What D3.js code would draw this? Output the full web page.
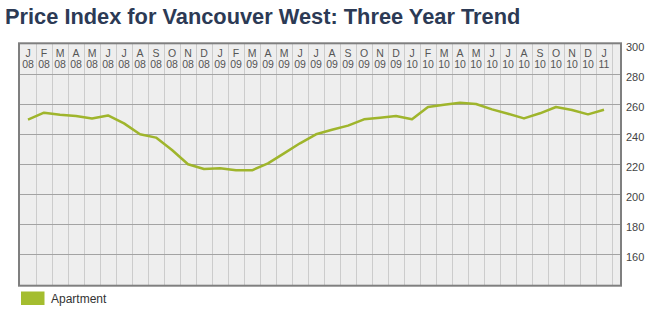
<!DOCTYPE html>
<meta charset="utf-8">
<style>
    body { margin: 0; background: #fff; }
    text { font-family: "Liberation Sans", Arial, sans-serif; }
</style>
<body>
<script src="https://d3js.org/d3.v7.min.js"></script>
<script>
    // month letters and two-digit years for the header band
    var months = ["J","F","M","A","M","J","J","A","S","O","N","D",
                  "J","F","M","A","M","J","J","A","S","O","N","D",
                  "J","F","M","A","M","J","J","A","S","O","N","D","J"];
    var years = ["08","08","08","08","08","08","08","08","08","08","08","08",
                 "09","09","09","09","09","09","09","09","09","09","09","09",
                 "10","10","10","10","10","10","10","10","10","10","10","10","11"];
    // apartment price index
    var apartment = [249.8, 254.4, 253.1, 252.2, 250.6, 252.6, 247.3, 240.0, 237.8, 229.5, 220.0, 216.9,
                     217.3, 216.0, 216.0, 220.6, 227.3, 234.0, 240.0, 243.0, 245.8, 250.0, 251.1, 252.2,
                     250.0, 258.2, 259.7, 261.1, 260.2, 256.6, 253.7, 250.6, 254.0, 258.2, 256.2, 253.3, 256.4];
    var yTicks = [160, 180, 200, 220, 240, 260, 280, 300];

    var width = 660, height = 312;
    var svg = d3.select("body").append("svg")
        .attr("width", width)
        .attr("height", height);

    // title
    svg.append("text")
        .attr("x", 5)
        .attr("y", 23.5)
        .style("font-size", "21.8px")
        .style("font-weight", "bold")
        .style("fill", "#2c3a55")
        .text("Price Index for Vancouver West: Three Year Trend");

    var idx = d3.range(months.length);
    var x = d3.scaleBand().domain(idx).range([20, 612]);
    var y = d3.scaleLinear().domain([140, 300]).range([284.3, 44.3]);

    // plot background
    svg.append("rect")
        .attr("x", 19).attr("y", 43.3)
        .attr("width", 602).attr("height", 242.4)
        .style("fill", "#eeeeee");

    // vertical grid (column boundaries)
    svg.append("g").selectAll("line")
        .data(idx.slice(1).concat([months.length]))
        .enter().append("line")
        .attr("x1", function (d) { return Math.round(20 + d * x.bandwidth()) + 0.5; })
        .attr("x2", function (d) { return Math.round(20 + d * x.bandwidth()) + 0.5; })
        .attr("y1", 44).attr("y2", 285)
        .style("stroke", "#cccccc")
        .style("stroke-width", 1);

    // horizontal grid
    svg.append("g").selectAll("line")
        .data(yTicks.filter(function (d) { return d < 300; }))
        .enter().append("line")
        .attr("x1", 20).attr("x2", 620)
        .attr("y1", function (d) { return Math.round(y(d)) + 0.5; })
        .attr("y2", function (d) { return Math.round(y(d)) + 0.5; })
        .style("stroke", "#a3a3a3")
        .style("stroke-width", 1);

    // frame
    svg.append("rect")
        .attr("x", 19).attr("y", 43.3)
        .attr("width", 602).attr("height", 242.4)
        .style("fill", "none")
        .style("stroke", "#7f7f7f")
        .style("stroke-width", 2);

    // y axis labels on the right
    svg.append("g").selectAll("text")
        .data(yTicks)
        .enter().append("text")
        .attr("x", 626)
        .attr("y", function (d) { return y(d) + 6.5; })
        .style("font-size", "11px")
        .style("fill", "#444")
        .text(function (d) { return d; });

    // header month labels
    var head = svg.append("g").selectAll("g")
        .data(idx)
        .enter().append("g")
        .attr("transform", function (d) { return "translate(" + (x(d) + x.bandwidth() / 2) + ",0)"; });
    head.append("text")
        .attr("y", 56.5)
        .style("text-anchor", "middle")
        .style("font-size", "10.5px")
        .style("fill", "#555")
        .text(function (d) { return months[d]; });
    head.append("text")
        .attr("y", 67.5)
        .style("text-anchor", "middle")
        .style("font-size", "10.5px")
        .style("fill", "#555")
        .text(function (d) { return years[d]; });

    // the line
    var valueline = d3.line()
        .x(function (d, i) { return x(i) + x.bandwidth() / 2; })
        .y(function (d) { return y(d); });
    svg.append("path")
        .datum(apartment)
        .attr("d", valueline)
        .style("fill", "none")
        .style("stroke", "#9fb52c")
        .style("stroke-width", 2.5)
        .style("stroke-linejoin", "round");

    // legend
    svg.append("rect")
        .attr("x", 21).attr("y", 291.5)
        .attr("width", 23.5).attr("height", 13.5)
        .style("fill", "#a4bd2f");
    svg.append("text")
        .attr("x", 51).attr("y", 303)
        .style("font-size", "12px")
        .style("fill", "#333")
        .text("Apartment");
</script>
</body>
